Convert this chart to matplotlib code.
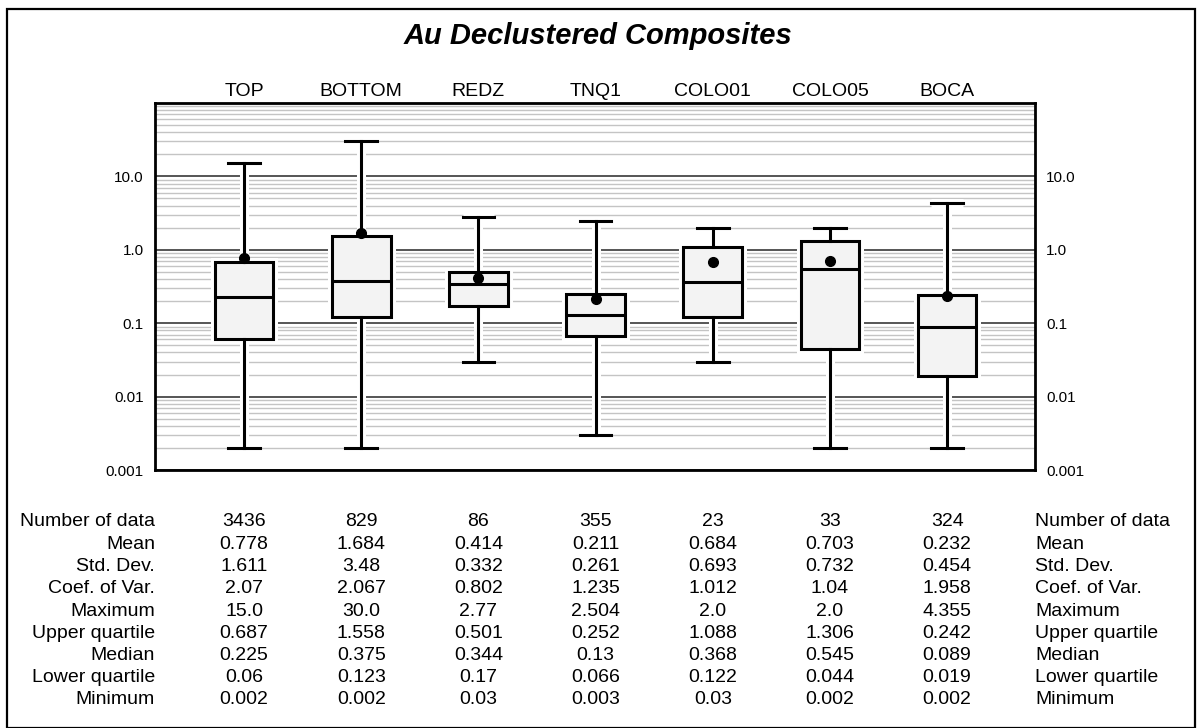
import matplotlib
matplotlib.use('Agg')
import matplotlib.pyplot as plt
import matplotlib.transforms as mtransforms
from matplotlib.lines import Line2D
from matplotlib.patches import Rectangle, PathPatch
from matplotlib.ticker import LogLocator, NullFormatter

plt.rcParams['font.family'] = ['Liberation Sans', 'DejaVu Sans']

W, H = 1197, 728

domains = ["TOP", "BOTTOM", "REDZ", "TNQ1", "COLO01", "COLO05", "BOCA"]
n_data = [3436, 829, 86, 355, 23, 33, 324]
mean = [0.778, 1.684, 0.414, 0.211, 0.684, 0.703, 0.232]
std_dev = [1.611, 3.48, 0.332, 0.261, 0.693, 0.732, 0.454]
coef_var = [2.07, 2.067, 0.802, 1.235, 1.012, 1.04, 1.958]
maximum = [15.0, 30.0, 2.77, 2.504, 2.0, 2.0, 4.355]
upper_q = [0.687, 1.558, 0.501, 0.252, 1.088, 1.306, 0.242]
median = [0.225, 0.375, 0.344, 0.13, 0.368, 0.545, 0.089]
lower_q = [0.06, 0.123, 0.17, 0.066, 0.122, 0.044, 0.019]
minimum = [0.002, 0.002, 0.03, 0.003, 0.03, 0.002, 0.002]

row_names = ["Number of data", "Mean", "Std. Dev.", "Coef. of Var.", "Maximum",
             "Upper quartile", "Median", "Lower quartile", "Minimum"]
rows = [n_data, mean, std_dev, coef_var, maximum, upper_q, median, lower_q, minimum]

ytick_vals = [0.001, 0.01, 0.1, 1.0, 10.0]
ytick_labels = ["0.001", "0.01", "0.1", "1.0", "10.0"]

fig = plt.figure(figsize=(W / 100, H / 100), dpi=100)
ax = fig.add_axes([155 / W, 1 - 470 / H, 880 / W, 367 / H])

stats = []
for i in range(len(domains)):
    stats.append(dict(med=median[i], q1=lower_q[i], q3=upper_q[i],
                      whislo=minimum[i], whishi=maximum[i], mean=mean[i],
                      label=domains[i]))

lw = 2.2
res = ax.bxp(stats, positions=range(len(domains)), widths=0.5, capwidths=0.27,
             showmeans=True, showfliers=False, patch_artist=True,
             boxprops=dict(facecolor='#f3f3f3', edgecolor='black', linewidth=lw),
             whiskerprops=dict(color='black', linewidth=lw),
             capprops=dict(color='black', linewidth=lw),
             medianprops=dict(color='black', linewidth=lw),
             meanprops=dict(marker='o', markerfacecolor='black',
                            markeredgecolor='black', markersize=7))

# white halo under the boxes and whiskers, cuts the grid lines like the original
for art in res['whiskers'] + res['caps']:
    ax.add_line(Line2D(art.get_xdata(), art.get_ydata(), color='white',
                       linewidth=6.5, solid_capstyle='butt', zorder=1.5))
for art in res['boxes']:
    ax.add_patch(PathPatch(art.get_path(), facecolor='none', edgecolor='white',
                           linewidth=6.5, zorder=1.5))

ax.set_yscale('log')
ax.set_ylim(0.001, 100)
ax.set_xlim(-0.76, 6.75)
ax.set_yticks(ytick_vals)
ax.set_yticklabels(ytick_labels)
ax.yaxis.set_minor_locator(LogLocator(base=10, subs=range(2, 10)))
ax.yaxis.set_minor_formatter(NullFormatter())
ax.set_xticks([])
ax.grid(True, axis='y', which='major', color='#555555', linewidth=1.4)
ax.grid(True, axis='y', which='minor', color='#c4c4c4', linewidth=1.0)
ax.set_axisbelow(True)
ax.tick_params(axis='y', which='both', length=0, labelsize=11, pad=8,
               left=False, right=False, labelleft=True, labelright=True)
for s in ax.spines.values():
    s.set_linewidth(2)
    s.set_color('black')
    s.set_zorder(3)

# names and stats table, x in data units, y in figure units
trans = mtransforms.blended_transform_factory(ax.transData, fig.transFigure)
for i, name in enumerate(domains):
    ax.text(i, 1 - 91 / H, name, transform=trans, ha='center', va='center', fontsize=14)

for r, (label, vals) in enumerate(zip(row_names, rows)):
    y = 1 - (522 + 22.25 * r) / H
    fig.text(155 / W, y, label, ha='right', va='center', fontsize=14)
    fig.text(1035 / W, y, label, ha='left', va='center', fontsize=14)
    for i, v in enumerate(vals):
        ax.text(i, y, str(v), transform=trans, ha='center', va='center', fontsize=14)

fig.text(598 / W, 1 - 36 / H, "Au Declustered Composites", ha='center', va='center',
         fontsize=21, fontweight='bold', fontstyle='italic')

fig.patches.append(Rectangle((7 / W, 0.5 / H), 1188 / W, (H - 9.5) / H,
                             transform=fig.transFigure, fill=False,
                             edgecolor='black', linewidth=1.6))

fig.savefig('out.png', dpi=100)
